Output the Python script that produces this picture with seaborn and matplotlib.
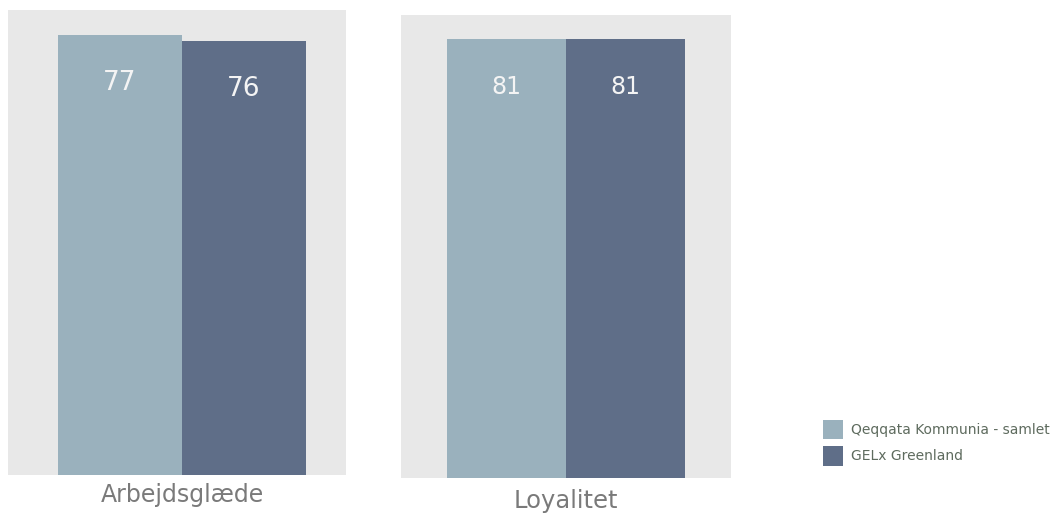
import matplotlib
matplotlib.use("Agg")
import matplotlib.pyplot as plt
import seaborn as sns
import pandas as pd

categories = ["Arbejdsglæde", "Loyalitet"]
series = ["Qeqqata Kommunia - samlet", "GELx Greenland"]
values_qeqqata = [77, 81]
values_gelx = [76, 81]

colors = ["#9AB1BD", "#5F6E88"]
panel_bg = "#E8E8E8"

rows = []
for i, c in enumerate(categories):
    rows.append({"category": c, "series": series[0], "value": values_qeqqata[i]})
    rows.append({"category": c, "series": series[1], "value": values_gelx[i]})
df = pd.DataFrame(rows)

W, H = 1055, 513
fig = plt.figure(figsize=(W / 100, H / 100), dpi=100)
plt.rcParams["font.family"] = ["DejaVu Sans"]

def px_axes(x0, y0, x1, y1):
    return fig.add_axes([x0 / W, 1 - y1 / H, (x1 - x0) / W, (y1 - y0) / H])

panels = [
    dict(box=(8, 10, 346, 475), xlim=(-0.561, 0.529), ylim=(0, 81.4), vfs=19, lfs=17, pad=5.5),
    dict(box=(401, 15, 731, 478), xlim=(-0.555, 0.555), ylim=(0, 85.4), vfs=17, lfs=17.5, pad=8),
]

legend_handles = None
for i, (cat, p) in enumerate(zip(categories, panels)):
    ax = px_axes(*p["box"])
    sub = df[df["category"] == cat]
    sns.barplot(data=sub, x="category", y="value", hue="series", hue_order=series,
                palette=colors, saturation=1, linewidth=0, ax=ax, legend=(i == 0),
                errorbar=None)
    if i == 0:
        lg = ax.get_legend()
        legend_handles = (lg.legend_handles, [t.get_text() for t in lg.texts])
        lg.remove()
    ax.set_facecolor(panel_bg)
    ax.set_xlim(*p["xlim"])
    ax.set_ylim(*p["ylim"])
    for s in ax.spines.values():
        s.set_visible(False)
    ax.set_yticks([])
    ax.set_ylabel("")
    ax.set_xlabel("")
    ax.tick_params(axis="x", length=0, pad=p["pad"], labelsize=p["lfs"], labelcolor="#7A7A7A")
    for cont in ax.containers:
        texts = ax.bar_label(cont, fmt="%d", padding=-39.5, color="#F4F4F4",
                             fontsize=p["vfs"])
        for t in texts:
            t.set_va("baseline")

handles, labels = legend_handles
fig.legend(handles, labels, loc="upper left",
           bbox_to_anchor=(819 / W, 1 - 416 / H), frameon=False,
           fontsize=10, handlelength=1.4, handleheight=1.75,
           labelspacing=0.5, handletextpad=0.6, labelcolor="#5E6B5E",
           borderaxespad=0, borderpad=0.3)

fig.savefig("out.png", dpi=100)
